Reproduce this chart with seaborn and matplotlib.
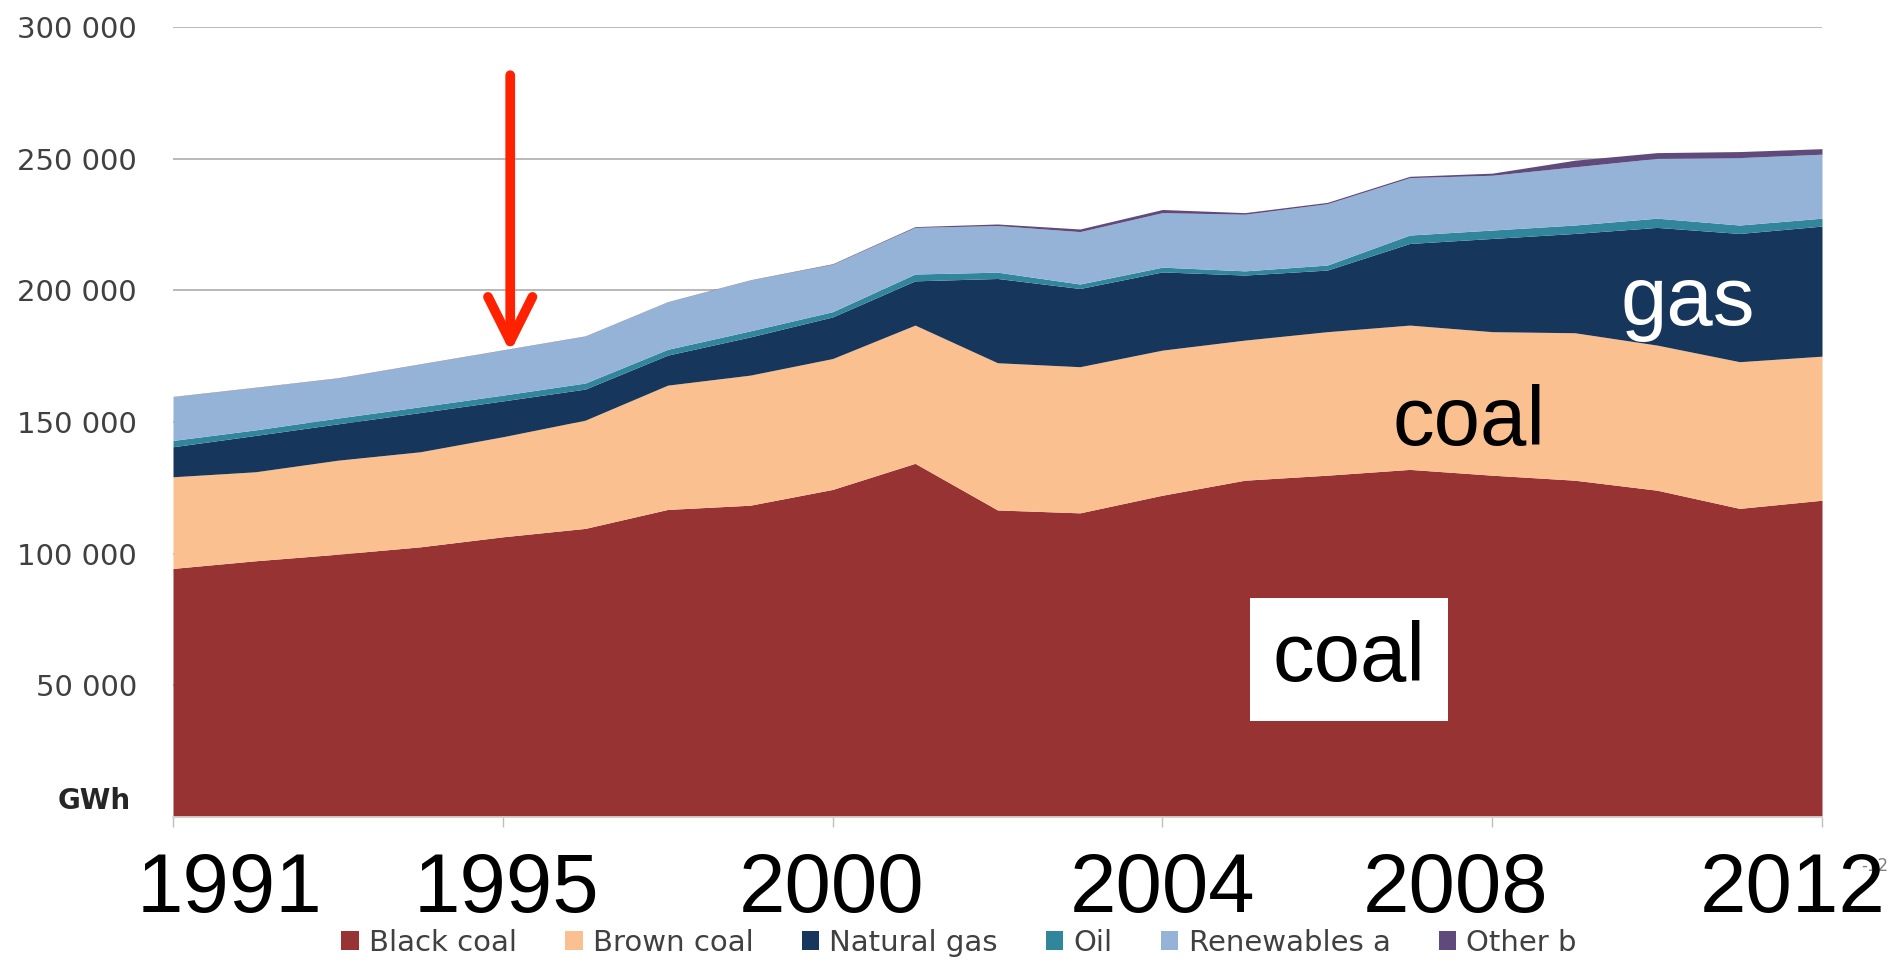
import matplotlib.pyplot as plt
import matplotlib.transforms as mtransforms
import seaborn as sns

# Australian electricity generation by fuel, GWh
years = ["1991-92", "1992-93", "1993-94", "1994-95", "1995-96", "1996-97", "1997-98",
         "1998-99", "1999-00", "2000-01", "2001-02", "2002-03", "2003-04", "2004-05",
         "2005-06", "2006-07", "2007-08", "2008-09", "2009-10", "2010-11", "2011-12"]
black_coal = [94400, 97300, 99800, 102600, 106400, 109600, 116800, 118400, 124400, 134300,
              116600, 115500, 122200, 127900, 129800, 132000, 129800, 127900, 124100, 117200, 120300]
brown_coal = [34800, 33800, 35700, 36100, 38000, 41100, 47200, 49400, 49700, 52500,
              55900, 55500, 55100, 53200, 54500, 54800, 54500, 56000, 55100, 55700, 54700]
natural_gas = [11400, 13800, 13800, 14900, 13600, 11800, 11400, 14500, 15800, 16800,
               32000, 29700, 29700, 24700, 23400, 31000, 35400, 37700, 44700, 48700, 49400]
oil = [2400, 2100, 2200, 2200, 2200, 2300, 2200, 2300, 2000, 2600,
       2400, 1700, 1800, 1600, 1900, 3200, 3200, 3200, 3500, 3200, 3000]
renewables = [16600, 16100, 15200, 16200, 17100, 17800, 18000, 19300, 18000, 17700,
              17700, 19900, 20700, 21500, 23300, 21800, 20800, 22100, 22700, 25600, 24300]
other = [100, 100, 100, 100, 100, 100, 100, 100, 200, 300,
         600, 1000, 1200, 600, 500, 500, 800, 2500, 2200, 2300, 2100]

series_names = ["Black coal", "Brown coal", "Natural gas", "Oil", "Renewables a", "Other b"]
series_colors = ["#983334", "#FAC090", "#16365C", "#31869B", "#95B3D7", "#604A7B"]

y_ticks = [50000, 100000, 150000, 200000, 250000, 300000]
year_labels = ["1991", "1995", "2000", "2004", "2008", "2012"]
year_label_pos = [0.69, 4.05, 7.99, 12.0, 15.56, 19.64]

sns.set_theme(style="white")
plt.rcParams["font.family"] = ["DejaVu Sans"]

W, H = 1901, 963
fig = plt.figure(figsize=(W / 100, H / 100), dpi=100)
ax = fig.add_axes([173 / W, 1 - 817 / H, 1649 / W, 790 / H])

x = list(range(len(years)))
ax.stackplot(x, black_coal, brown_coal, natural_gas, oil, renewables, other,
             colors=series_colors, labels=series_names, linewidth=0)

ax.set_xlim(0, len(years) - 1)
ax.set_ylim(0, 300000)

ax.set_yticks(y_ticks)
ax.set_yticklabels([f"{v:,}".replace(",", " ") for v in y_ticks], fontsize=21, color="#404040")
ax.tick_params(axis="y", length=0, pad=26)
ax.yaxis.grid(True, color="#a6a6a6", linewidth=1.1)
ax.set_axisbelow(True)

ax.set_xticks(range(0, len(years), 4))
ax.set_xticklabels([])
ax.tick_params(axis="x", length=7, width=1, color="#bfbfbf", direction="out", bottom=True)

sns.despine(ax=ax, left=True)
ax.spines["bottom"].set_color("#d9d9d9")

# unit in place of the zero label
ax.text(-0.0255, 6000, "GWh", transform=ax.get_yaxis_transform(), ha="right", va="center",
        fontsize=20, fontweight="bold", color="#262626")

# big year labels pasted over the original axis labels
xt = mtransforms.blended_transform_factory(ax.transData, ax.transAxes)
for lab, pos in zip(year_labels, year_label_pos):
    ax.text(pos, -0.120, lab, transform=xt, ha="center", va="baseline",
            fontsize=60, family=["Liberation Sans", "DejaVu Sans"], color="black", zorder=6)
ax.text(20.48, -0.062, "-12", transform=xt, ha="left", va="center",
        fontsize=12, color="#808080", zorder=5)

# annotations on the areas
big = dict(fontsize=60, family=["Liberation Sans", "DejaVu Sans"], ha="center", va="baseline")
ax.text(18.37, 186800, "gas", color="white", **big)
ax.text(15.72, 141200, "coal", color="black", **big)
ax.text(14.26, 51500, "coal", color="black",
        bbox=dict(boxstyle="square,pad=0.27", facecolor="white", edgecolor="none"), **big)

ax.annotate("", xy=(4.09, 176500), xytext=(4.09, 281700),
            arrowprops=dict(arrowstyle="->,head_length=1.6,head_width=0.8",
                            color="#ff2200", lw=7, mutation_scale=20,
                            shrinkA=0, shrinkB=0, capstyle="round", joinstyle="round"))

fig.legend(loc="center", bbox_to_anchor=(0.5045, 0.021), ncol=6, frameon=False,
           fontsize=21, handlelength=0.6, handleheight=0.6, handletextpad=0.35,
           columnspacing=1.65, labelcolor="#404040")

fig.savefig("out.png", dpi=100)
